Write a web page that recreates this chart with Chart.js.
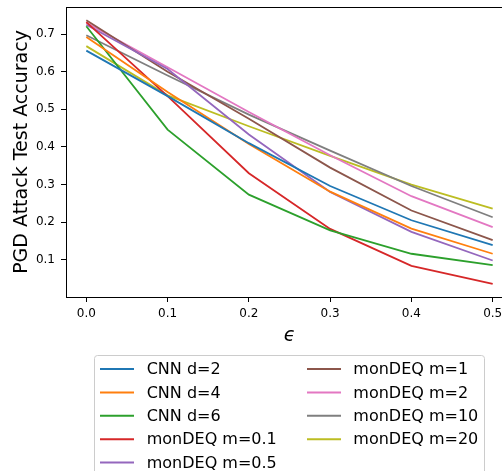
<!DOCTYPE html>
<html>
<head>
<meta charset="utf-8">
<script src="https://cdn.jsdelivr.net/npm/chart.js@4.4.0/dist/chart.umd.min.js"></script>
<style>
html, body { margin: 0; padding: 0; overflow: hidden; background: #fff; }
#wrap { width: 530px; height: 471px; }
</style>
</head>
<body>
<div id="wrap"><canvas id="chart" width="530" height="471"></canvas></div>
<script>
// Attack strength on the x axis
const epsilons = [0.0, 0.1, 0.2, 0.3, 0.4, 0.5];
const xTicks = [0.0, 0.1, 0.2, 0.3, 0.4, 0.5];
const yTicks = [0.1, 0.2, 0.3, 0.4, 0.5, 0.6, 0.7];

const seriesNames = ['CNN d=2', 'CNN d=4', 'CNN d=6', 'monDEQ m=0.1', 'monDEQ m=0.5',
                     'monDEQ m=1', 'monDEQ m=2', 'monDEQ m=10', 'monDEQ m=20'];
const seriesColors = ['#1f77b4', '#ff7f0e', '#2ca02c', '#d62728', '#9467bd',
                      '#8c564b', '#e377c2', '#7f7f7f', '#bcbd22'];

// PGD attack test accuracy
const cnnD2   = [0.656, 0.535, 0.410, 0.296, 0.205, 0.139];
const cnnD4   = [0.692, 0.546, 0.408, 0.281, 0.183, 0.116];
const cnnD6   = [0.721, 0.446, 0.273, 0.178, 0.116, 0.086];
const monM01  = [0.732, 0.535, 0.330, 0.182, 0.084, 0.036];
const monM05  = [0.725, 0.607, 0.433, 0.280, 0.174, 0.098];
const monM1   = [0.737, 0.600, 0.475, 0.345, 0.231, 0.152];
const monM2   = [0.730, 0.612, 0.493, 0.378, 0.269, 0.187];
const monM10  = [0.697, 0.590, 0.486, 0.390, 0.296, 0.213];
const monM20  = [0.668, 0.537, 0.455, 0.376, 0.300, 0.236];

const allSeries = [cnnD2, cnnD4, cnnD6, monM01, monM05, monM1, monM2, monM10, monM20];

Chart.defaults.font.family = "'DejaVu Sans', sans-serif";
Chart.defaults.color = '#000';

const datasets = allSeries.map((vals, i) => ({
    label: seriesNames[i],
    data: epsilons.map((e, j) => ({ x: e, y: vals[j] })),
    borderColor: seriesColors[i],
    backgroundColor: seriesColors[i],
    borderWidth: 1.8,
    pointRadius: 0,
    tension: 0,
    fill: false,
}));

// top/right spines like matplotlib
const framePlugin = {
    id: 'frame',
    afterDraw(chart) {
        const { ctx, chartArea: a } = chart;
        ctx.save();
        ctx.strokeStyle = '#000';
        ctx.lineWidth = 1;
        ctx.beginPath();
        ctx.moveTo(a.left, Math.round(a.top) + 0.5);
        ctx.lineTo(a.right, Math.round(a.top) + 0.5);
        ctx.lineTo(a.right, a.bottom);
        ctx.stroke();
        ctx.restore();
    }
};

// two-column legend, filled column by column
const legendPlugin = {
    id: 'colLegend',
    afterDraw(chart) {
        const ctx = chart.ctx;
        const sets = chart.data.datasets;
        const box = { x: 94.5, y: 355.5, w: 390, h: 130 };
        ctx.save();
        ctx.fillStyle = 'rgba(255,255,255,0.8)';
        ctx.strokeStyle = '#cccccc';
        ctx.lineWidth = 1;
        ctx.beginPath();
        ctx.roundRect(box.x, box.y, box.w, box.h, 3);
        ctx.fill();
        ctx.stroke();

        const rows = 5;
        const cols = [{ line: 100, text: 146.7 }, { line: 307, text: 353.3 }];
        ctx.font = "16px 'DejaVu Sans'";
        ctx.textBaseline = 'middle';
        ctx.textAlign = 'left';
        sets.forEach((ds, i) => {
            const c = cols[Math.floor(i / rows)];
            const y = 369 + (i % rows) * 23.4;
            ctx.strokeStyle = ds.borderColor;
            ctx.lineWidth = 2;
            ctx.beginPath();
            ctx.moveTo(c.line, y);
            ctx.lineTo(c.line + 34, y);
            ctx.stroke();
            ctx.fillStyle = '#000';
            ctx.fillText(ds.label, c.text, y + 1);
        });
        ctx.restore();
    }
};

new Chart(document.getElementById('chart'), {
    type: 'line',
    data: { datasets },
    options: {
        responsive: false,
        animation: false,
        layout: { padding: { left: 0, top: 7, right: 17, bottom: 120 } },
        plugins: {
            legend: { display: false },
            tooltip: { enabled: false },
        },
        scales: {
            x: {
                type: 'linear',
                min: -0.025,
                max: 0.525,
                afterBuildTicks: (scale) => { scale.ticks = xTicks.map(v => ({ value: v })); },
                afterFit: (scale) => { scale.height = 54; },
                ticks: {
                    font: { size: 12 },
                    padding: 5,
                    maxRotation: 0,
                    callback: (v) => Number(v).toFixed(1),
                },
                grid: { drawOnChartArea: false, drawTicks: true, tickLength: 5, color: '#000', lineWidth: 1 },
                border: { display: true, color: '#000', width: 1 },
                title: {
                    display: true,
                    text: '\u03f5',
                    font: { size: 19, style: 'italic' },
                    padding: { top: 0, bottom: 4 },
                },
            },
            y: {
                type: 'linear',
                min: 0.001,
                max: 0.772,
                afterBuildTicks: (scale) => { scale.ticks = yTicks.map(v => ({ value: v })); },
                afterFit: (scale) => { scale.width = 66; scale.paddingTop = 0; scale.paddingBottom = 0; },
                ticks: {
                    font: { size: 12 },
                    padding: 6,
                    callback: (v) => Number(v).toFixed(1),
                },
                grid: { drawOnChartArea: false, drawTicks: true, tickLength: 5, color: '#000', lineWidth: 1 },
                border: { display: true, color: '#000', width: 1 },
                title: {
                    display: true,
                    text: 'PGD Attack Test Accuracy',
                    font: { size: 19 },
                    padding: { top: 11, bottom: 0 },
                },
            },
        },
    },
    plugins: [framePlugin, legendPlugin],
});
</script>
</body>
</html>
